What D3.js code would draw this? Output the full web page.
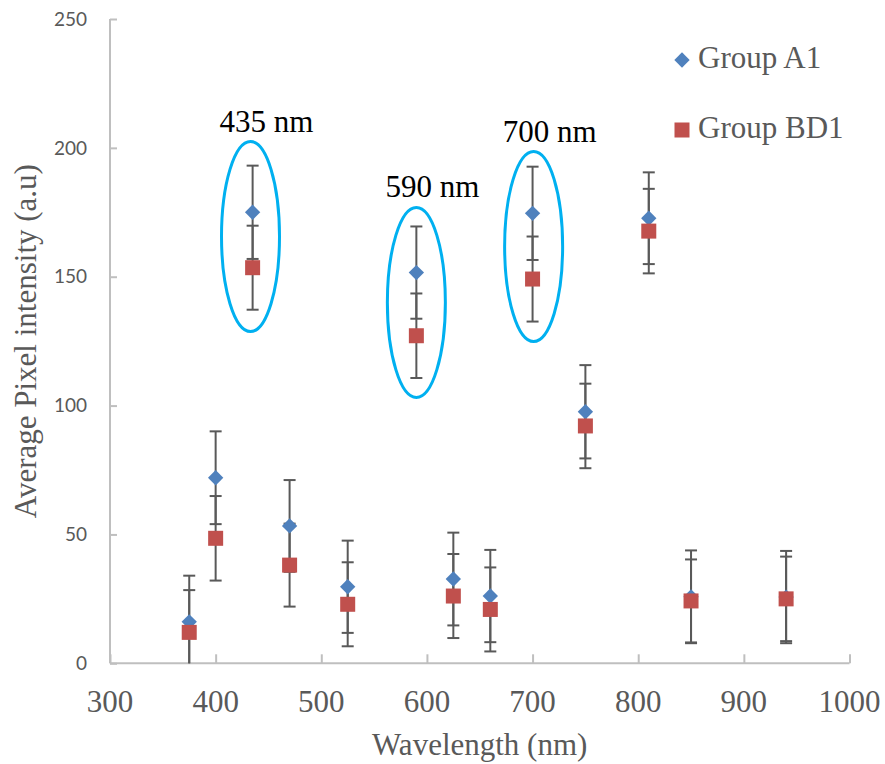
<!DOCTYPE html>
<html>
<head>
<meta charset="utf-8">
<script src="https://cdn.jsdelivr.net/npm/d3@7"></script>
<style>
  body { margin: 0; background: #fff; }
  svg { display: block; }
</style>
</head>
<body>
<div id="chart"></div>
<script>
// data
wavelengths = [375, 400, 435, 470, 525, 590, 625, 660, 700, 750, 810, 850, 940]
groupA = [16.1, 72.0, 175.0, 53.3, 29.7, 151.6, 32.7, 26.1, 174.6, 97.6, 172.7, 25.8, 25.7]
groupAErr = [17.9, 18.0, 18.1, 17.8, 17.9, 17.9, 18.0, 17.9, 18.1, 18.1, 17.8, 18.0, 17.9]
groupB = [12.0, 48.5, 153.5, 38.1, 22.9, 127.1, 26.1, 20.9, 149.1, 92.1, 167.7, 24.2, 25.0]
groupBErr = [16.4, 16.4, 16.3, 16.1, 16.3, 16.4, 16.3, 16.3, 16.5, 16.4, 16.4, 16.1, 16.4]
seriesNames = ["Group A1", "Group BD1"]
xTicks = [300, 400, 500, 600, 700, 800, 900, 1000]
yTicks = [0, 50, 100, 150, 200, 250]
// highlighted peaks: ellipse centre (wavelength, intensity) and label
peakWl = [433, 590, 701]
peakVal = [165.6, 140, 161.7]
peakLabels = ["435 nm", "590 nm", "700 nm"]

W = 885, H = 764
margin = {top: 19, right: 35.5, bottom: 100.7, left: 110}

svg = d3.select("#chart")
  .append("svg")
  .attr("width", W)
  .attr("height", H)

x = d3.scaleLinear().domain([300, 1000]).range([margin.left, W - margin.right])
y = d3.scaleLinear().domain([0, 250]).range([H - margin.bottom, margin.top])

axisColor = "#bfbfbf"
textGray = "#595959"
serifFont = "Liberation Serif"

// x axis (ticks pointing inward)
gx = svg.append("g")
  .attr("transform", `translate(0, ${y(0)})`)
  .call(d3.axisTop(x).tickValues(xTicks).tickSize(9).tickFormat(""))
gx.selectAll("line, path").attr("stroke", axisColor).attr("stroke-width", 2)
gx.select(".domain").attr("d", `M${x(300)},0H${x(1000)}`)

svg.append("g").selectAll("text")
  .data(xTicks)
  .join("text")
    .attr("x", d => x(d))
    .attr("y", y(0) + 49)
    .attr("text-anchor", "middle")
    .attr("font-family", serifFont)
    .attr("font-size", 31)
    .attr("fill", textGray)
    .text(d => d)

// y axis (ticks pointing inward)
gy = svg.append("g")
  .attr("transform", `translate(${x(300)}, 0)`)
  .call(d3.axisRight(y).tickValues(yTicks).tickSize(7).tickFormat(""))
gy.selectAll("line, path").attr("stroke", axisColor).attr("stroke-width", 2)
gy.select(".domain").attr("d", `M0,${y(0)}V${y(250)}`)

svg.append("g").selectAll("text")
  .data(yTicks)
  .join("text")
    .attr("x", x(300) - 23)
    .attr("y", d => y(d))
    .attr("dy", "0.35em")
    .attr("text-anchor", "end")
    .attr("font-family", "Lato")
    .attr("font-size", 19)
    .attr("fill", textGray)
    .text(d => d)

// axis titles
svg.append("text")
  .attr("x", (x(300) + x(1000)) / 2)
  .attr("y", 755)
  .attr("text-anchor", "middle")
  .attr("font-family", serifFont)
  .attr("font-size", 31)
  .attr("fill", textGray)
  .text("Wavelength (nm)")

svg.append("text")
  .attr("transform", `translate(36, ${(y(0) + y(250)) / 2}) rotate(-90)`)
  .attr("text-anchor", "middle")
  .attr("font-family", serifFont)
  .attr("font-size", 31)
  .attr("fill", textGray)
  .text("Average Pixel intensity (a.u)")

// build rows
rows = wavelengths.map((w, i) => ({w: w, a: groupA[i], ae: groupAErr[i], b: groupB[i], be: groupBErr[i]}))
bars = []
rows.forEach(d => {
  bars.push({w: d.w, v: d.a, e: d.ae})
  bars.push({w: d.w, v: d.b, e: d.be})
})

// error bars
errColor = "#595959"
capW = 6
eb = svg.append("g").selectAll("g")
  .data(bars)
  .join("g")
eb.append("line")
  .attr("x1", d => x(d.w)).attr("x2", d => x(d.w))
  .attr("y1", d => y(d.v + d.e))
  .attr("y2", d => y(Math.max(0, d.v - d.e)))
  .attr("stroke", errColor).attr("stroke-width", 2)
eb.append("line")
  .attr("x1", d => x(d.w) - capW).attr("x2", d => x(d.w) + capW)
  .attr("y1", d => y(d.v + d.e)).attr("y2", d => y(d.v + d.e))
  .attr("stroke", errColor).attr("stroke-width", 2)
eb.filter(d => d.v - d.e >= 0).append("line")
  .attr("x1", d => x(d.w) - capW).attr("x2", d => x(d.w) + capW)
  .attr("y1", d => y(d.v - d.e)).attr("y2", d => y(d.v - d.e))
  .attr("stroke", errColor).attr("stroke-width", 2)

blue = "#4f81bd"
red = "#c0504d"
diamond = d3.symbol().type(d3.symbolDiamond2).size(150)

// Group A1 markers
svg.append("g").selectAll("path")
  .data(rows)
  .join("path")
    .attr("d", diamond)
    .attr("transform", d => `translate(${x(d.w)}, ${y(d.a)})`)
    .attr("fill", blue)

// Group BD1 markers
sq = 15
svg.append("g").selectAll("rect")
  .data(rows)
  .join("rect")
    .attr("x", d => x(d.w) - sq / 2)
    .attr("y", d => y(d.b) - sq / 2)
    .attr("width", sq)
    .attr("height", sq)
    .attr("fill", red)

// peak ellipses and labels
peaks = peakWl.map((w, i) => ({w: w, v: peakVal[i], label: peakLabels[i]}))
svg.append("g").selectAll("ellipse")
  .data(peaks)
  .join("ellipse")
    .attr("cx", d => x(d.w))
    .attr("cy", d => y(d.v))
    .attr("rx", 29)
    .attr("ry", 95)
    .attr("fill", "none")
    .attr("stroke", "#00b0f0")
    .attr("stroke-width", 3)
svg.append("g").selectAll("text")
  .data(peaks)
  .join("text")
    .attr("x", d => x(d.w) + 16)
    .attr("y", d => y(d.v) - 95 - 10)
    .attr("text-anchor", "middle")
    .attr("font-family", serifFont)
    .attr("font-size", 31)
    .attr("fill", "#000")
    .text(d => d.label)

// legend
legend = svg.append("g").attr("transform", "translate(682, 60)")
legendItems = legend.selectAll("g")
  .data(seriesNames)
  .join("g")
    .attr("transform", (d, i) => `translate(0, ${i * 70})`)
legendItems.filter((d, i) => i === 0).append("path")
  .attr("d", diamond)
  .attr("fill", blue)
legendItems.filter((d, i) => i === 1).append("rect")
  .attr("x", -sq / 2).attr("y", -sq / 2)
  .attr("width", sq).attr("height", sq)
  .attr("fill", red)
legendItems.append("text")
  .attr("x", 16)
  .attr("y", 8)
  .attr("font-family", serifFont)
  .attr("font-size", 31)
  .attr("fill", textGray)
  .text(d => d)
</script>
</body>
</html>
